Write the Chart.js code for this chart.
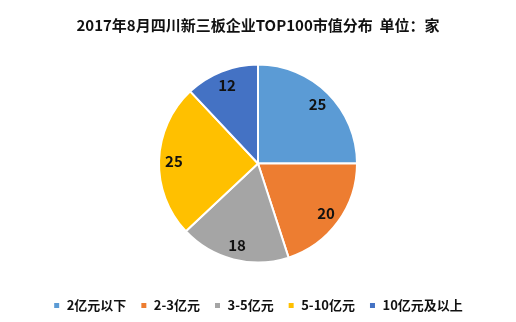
<!DOCTYPE html>
<html>
<head>
<meta charset="utf-8">
<script src="https://cdn.jsdelivr.net/npm/chart.js@4"></script>
<style>
  html, body { margin: 0; padding: 0; background: #fff; }
  #wrap { width: 516px; height: 322px; }
</style>
</head>
<body>
<div id="wrap"><canvas id="myChart" width="516" height="322"></canvas></div>
<script>
const categorias = ['2亿元以下', '2-3亿元', '3-5亿元', '5-10亿元', '10亿元及以上'];
const empresas = [25, 20, 18, 25, 12];
const colores = ['#5B9BD5', '#ED7D31', '#A5A5A5', '#FFC000', '#4472C4'];

const fuente = '"Noto Sans CJK SC", "Noto Sans", sans-serif';

// etiquetas dentro de cada sector
const etiquetas = {
  id: 'etiquetas',
  afterDatasetsDraw(chart) {
    const c = chart.ctx;
    const meta = chart.getDatasetMeta(0);
    c.save();
    c.font = 'bold 15px ' + fuente;
    c.fillStyle = '#111';
    c.textAlign = 'center';
    c.textBaseline = 'middle';
    meta.data.forEach((arc, i) => {
      const p = arc.getProps(['x', 'y', 'startAngle', 'endAngle', 'outerRadius']);
      const a = (p.startAngle + p.endAngle) / 2;
      const r = p.outerRadius * 0.85;
      c.fillText(empresas[i], p.x + Math.cos(a) * r, p.y + Math.sin(a) * r);
    });
    c.restore();
  }
};

var ctx = document.getElementById('myChart').getContext('2d');

var myChart = new Chart(ctx, {
  type: 'pie',
  data: {
    labels: categorias,
    datasets: [{
      data: empresas,
      backgroundColor: colores,
      borderColor: '#fff',
      borderWidth: 2,
      radius: 99
    }]
  },
  options: {
    responsive: false,
    animation: false,
    layout: { padding: { top: 0, bottom: 0, left: 0, right: 0 } },
    plugins: {
      title: {
        display: true,
        text: '2017年8月四川新三板企业TOP100市值分布  单位：家',
        color: '#111',
        font: { family: fuente, size: 15, weight: 'bold' },
        padding: { top: 16, bottom: 8 }
      },
      legend: {
        position: 'bottom',
        labels: {
          color: '#111',
          font: { family: fuente, size: 13, weight: 'bold' },
          boxWidth: 7,
          boxHeight: 7,
          padding: 14
        }
      },
      tooltip: { enabled: false }
    }
  },
  plugins: [etiquetas]
});
</script>
</body>
</html>
